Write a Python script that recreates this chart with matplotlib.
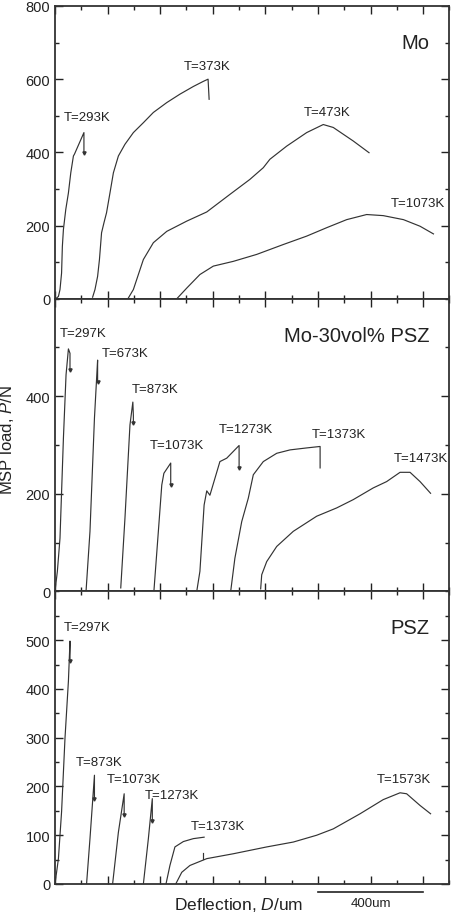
import matplotlib
matplotlib.use("Agg")
import matplotlib.pyplot as plt
from matplotlib.ticker import MultipleLocator
import matplotlib.transforms as mtransforms

plt.rcParams['font.family'] = ['Liberation Sans', 'DejaVu Sans']
plt.rcParams['mathtext.fontset'] = 'custom'
plt.rcParams['mathtext.rm'] = 'Liberation Sans'
plt.rcParams['mathtext.it'] = 'Liberation Sans:italic'

# ---- data (deflection in um, load in N) ----
mo_labels = ["T=293K", "T=373K", "T=473K", "T=1073K"]
mo_defl = [
    [3, 13, 19, 25, 28, 32, 41, 51, 60, 70, 74, 110, 110],
    [143, 152, 162, 169, 177, 186, 196, 209, 222, 241, 266, 298, 336, 374, 425,
     475, 526, 564, 582, 586],
    [279, 298, 336, 374, 425, 501, 577, 665, 741, 792, 817, 881, 957, 1020, 1058,
     1134, 1194],
    [466, 501, 551, 602, 678, 767, 868, 957, 1033, 1109, 1185, 1248, 1325, 1388, 1439],
]
mo_load = [
    [0, 6, 25, 70, 143, 189, 244, 289, 344, 390, 395, 454, 397],
    [4, 25, 61, 107, 180, 207, 235, 289, 344, 390, 422, 454, 481, 509, 536,
     559, 580, 594, 600, 545],
    [2, 25, 107, 153, 184, 212, 237, 285, 326, 358, 381, 417, 454, 476, 468,
     431, 399],
    [2, 29, 66, 89, 102, 121, 148, 171, 194, 216, 230, 227, 216, 198, 177],
]
mo_label_x = [123, 579, 1033, 1381]
mo_label_y = [497, 637, 510, 262]

cmp_labels = ["T=297K", "T=673K", "T=873K", "T=1073K", "T=1273K", "T=1373K", "T=1473K"]
cmp_defl = [
    [0, 9, 19, 32, 42, 51, 57, 57],
    [118, 133, 150, 162, 162],
    [250, 266, 285, 296, 298, 298],
    [376, 393, 406, 414, 440, 440],
    [539, 551, 567, 577, 589, 627, 653, 700, 700],
    [668, 684, 710, 735, 754, 792, 843, 894, 957, 1008, 1008],
    [782, 786, 805, 843, 906, 995, 1071, 1134, 1210, 1261, 1312, 1350, 1388, 1428],
]
cmp_load = [
    [0, 41, 109, 314, 444, 497, 488, 454],
    [0, 123, 355, 474, 430],
    [7, 150, 341, 388, 360, 345],
    [0, 123, 218, 242, 263, 218],
    [0, 41, 177, 206, 197, 266, 273, 299, 253],
    [0, 68, 143, 191, 239, 266, 283, 290, 294, 297, 253],
    [5, 34, 61, 92, 123, 154, 171, 188, 212, 225, 244, 244, 225, 201],
]
cmp_label_x = [108, 266, 380, 463, 725, 1081, 1390]
cmp_label_y = [530, 488, 415, 299, 333, 323, 273]

psz_labels = ["T=297K", "T=873K", "T=1073K", "T=1273K", "T=1373K", "T=1573K"]
psz_defl = [
    [0, 13, 25, 38, 51, 57, 57],
    [120, 133, 150, 150],
    [219, 241, 263, 263],
    [336, 355, 370, 370],
    [422, 437, 456, 488, 526, 567],
    [459, 482, 513, 577, 678, 805, 906, 995, 1058, 1160, 1248, 1312, 1337, 1388, 1428],
]
psz_load = [
    [0, 52, 148, 299, 416, 498, 457],
    [0, 93, 223, 175],
    [0, 106, 185, 141],
    [0, 93, 175, 130],
    [0, 38, 76, 87, 93, 96],
    [0, 24, 38, 52, 62, 76, 86, 100, 113, 144, 173, 187, 185, 161, 144],
]
psz_label_x = [123, 167, 300, 446, 618, 1328]
psz_label_y = [527, 251, 216, 183, 118, 216]
psz_mark_x = [564, 564]
psz_mark_y = [52, 63]

# curves that end with a small fracture arrow
mo_arrow = [True, False, False, False]
cmp_arrow = [True, True, True, True, True, False, False]
psz_arrow = [True, True, True, True, False, False]

line_col = '#333333'

fig, axes = plt.subplots(3, 1, figsize=(4.52, 9.2), dpi=100)
fig.subplots_adjust(left=55 / 452, right=449.5 / 452, top=1 - 7 / 920,
                    bottom=1 - 885 / 920, hspace=0)


def draw_panel(ax, defl, load, labels, lx, ly, arrows, name, ymax, yminor, yticks):
    for d, p, a in zip(defl, load, arrows):
        ax.plot(d, p, color=line_col, lw=0.85)
        if a:
            ax.plot(d[-1], p[-1], marker='v', ms=2.3, color=line_col)
    for t, x, y in zip(labels, lx, ly):
        ax.text(x, y, t, fontsize=9.5, ha='center', va='center', color='#222222')
    ax.text(0.95, 0.875, name, transform=ax.transAxes, fontsize=14.5,
            ha='right', va='center', color='#222222')
    ax.set_xlim(0, 1500)
    ax.set_ylim(0, ymax)
    ax.xaxis.set_major_locator(MultipleLocator(200))
    ax.xaxis.set_minor_locator(MultipleLocator(100))
    ax.set_yticks(yticks)
    ax.yaxis.set_minor_locator(MultipleLocator(yminor))
    ax.tick_params(which='both', direction='in', top=True, right=True,
                   labelbottom=False, labelsize=10.5, colors='#222222', width=1)
    ax.tick_params(which='major', length=6)
    ax.tick_params(which='minor', length=3)
    for s in ax.spines.values():
        s.set_linewidth(1.3)
        s.set_color('#333333')


draw_panel(axes[0], mo_defl, mo_load, mo_labels, mo_label_x, mo_label_y, mo_arrow,
           "Mo", 800, 100, [0, 200, 400, 600, 800])
draw_panel(axes[1], cmp_defl, cmp_load, cmp_labels, cmp_label_x, cmp_label_y, cmp_arrow,
           "Mo-30vol% PSZ", 600, 100, [0, 200, 400])
draw_panel(axes[2], psz_defl, psz_load, psz_labels, psz_label_x, psz_label_y, psz_arrow,
           "PSZ", 600, 50, [0, 100, 200, 300, 400, 500])
axes[2].plot(psz_mark_x, psz_mark_y, color=line_col, lw=0.85)

axes[1].set_ylabel(r"MSP load, $\it{P}$/N", fontsize=12, color='#222222')
axes[1].yaxis.set_label_coords(-0.098, 0.52)

# x label and 400um scale bar under the bottom panel
ax = axes[2]
trans = mtransforms.blended_transform_factory(ax.transData, ax.transAxes)
ax.text(700, -0.068, r"Deflection, $\it{D}$/um", transform=trans, fontsize=12.5,
        ha='center', va='center', color='#222222')
ax.plot([1000, 1400], [-0.028, -0.028], transform=trans, color='#222222', lw=1.2,
        clip_on=False)
ax.text(1200, -0.066, "400um", transform=trans, fontsize=9.5, ha='center',
        va='center', color='#222222')

fig.savefig("out.png", dpi=100)
